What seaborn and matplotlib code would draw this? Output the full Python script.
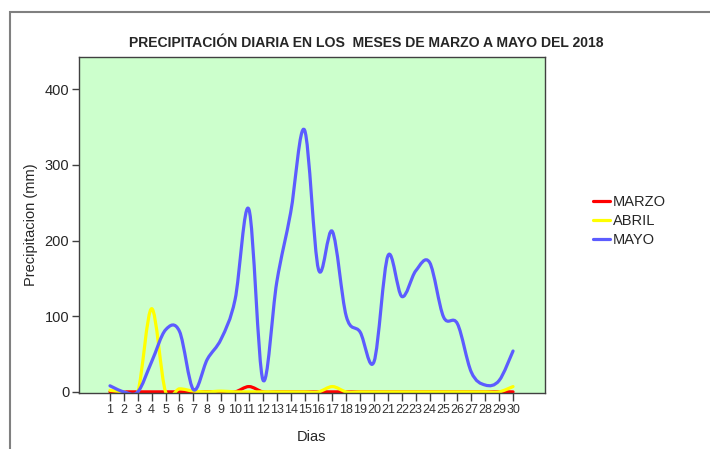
import numpy as np
import pandas as pd
import seaborn as sns
import matplotlib
matplotlib.use("Agg")
import matplotlib.pyplot as plt
from matplotlib.path import Path
from matplotlib.patches import PathPatch, Rectangle
from matplotlib.lines import Line2D

# daily precipitation (mm)
dias = list(range(1, 31))
marzo = [0, 0, 0, 0, 0, 0, 0, 0, 0, 0, 7, 0, 0, 0, 0,
         0, 0, 0, 0, 0, 0, 0, 0, 0, 0, 0, 0, 0, 0, 0]
abril = [2, 0, 0, 110, 0, 4, 1, 0, 1, 0, 0, 0, 0, 0, 0,
         0, 7, 0, 0, 0, 0, 0, 0, 0, 0, 0, 0, 0, 0, 7]
mayo = [8, 0, 0, 40, 82, 80, 3, 43, 70, 122, 241, 16, 145, 237, 346,
        162, 212, 100, 79, 40, 180, 126, 160, 171, 99, 90, 26, 9, 15, 54]
meses = ["MARZO", "ABRIL", "MAYO"]
colores = ["#FF0000", "#FFFF00", "#5C5CFF"]

df = pd.DataFrame({"Dias": dias, "MARZO": marzo, "ABRIL": abril, "MAYO": mayo})

sns.set_style("white")
plt.rcParams["font.family"] = ["Liberation Sans", "DejaVu Sans"]


def smooth_path(x, y):
    # bezier path through every data point (catmull-rom tangents)
    x = np.asarray(x, float)
    y = np.asarray(y, float)
    n = len(x)
    verts = [(x[0], y[0])]
    codes = [Path.MOVETO]
    for i in range(n - 1):
        p0 = max(i - 1, 0)
        p3 = min(i + 2, n - 1)
        c1 = (x[i] + (x[i + 1] - x[p0]) / 6, y[i] + (y[i + 1] - y[p0]) / 6)
        c2 = (x[i + 1] - (x[p3] - x[i]) / 6, y[i + 1] - (y[p3] - y[i]) / 6)
        verts += [c1, c2, (x[i + 1], y[i + 1])]
        codes += [Path.CURVE4] * 3
    return Path(verts, codes)


fig = plt.figure(figsize=(7.1, 4.49), dpi=100)
fig.patches.append(Rectangle((10 / 710, -0.1), 1.2, 1.1 - 12 / 449,
                             transform=fig.transFigure, fill=False,
                             edgecolor="#808080", linewidth=1.5))
ax = fig.add_axes([79 / 710, 1 - 393 / 449, 466 / 710, 336.3 / 449])
ax.set_facecolor("#CCFFCC")

for mes, col in zip(meses, colores):
    ax.add_patch(PathPatch(smooth_path(df["Dias"], df[mes]), fill=False,
                           edgecolor=col, linewidth=2.3, capstyle="round",
                           joinstyle="round"))

ax.set_xlim(-1.23, 32.3)
ax.set_ylim(-1.5, 443)
ax.set_xticks(dias)
ax.set_xticklabels([str(d) for d in dias], fontsize=9, color="#333333")
ax.set_yticks([0, 100, 200, 300, 400])
ax.tick_params(axis="y", labelsize=10.5, length=5, width=1, color="#404040",
               direction="out", left=True, pad=2)
ax.tick_params(axis="x", length=6, width=1, color="#404040", direction="out",
               bottom=True, pad=2)
for s in ax.spines.values():
    s.set_color("#404040")
    s.set_linewidth(1)

ax.set_xlabel("Dias", fontsize=10.5, labelpad=10)
ax.set_ylabel("Precipitacion (mm)", fontsize=10.5, labelpad=5)
fig.text(0.516, 0.904, "PRECIPITACIÓN DIARIA EN LOS  MESES DE MARZO A MAYO DEL 2018",
         ha="center", va="center", fontsize=10.1, fontweight="bold",
         family=["Liberation Sans Narrow", "Liberation Sans", "DejaVu Sans"])

handles = [Line2D([], [], color=c, linewidth=2.3) for c in colores]
fig.legend(handles, meses, loc="center left", bbox_to_anchor=(587 / 710, 1 - 221 / 449),
           frameon=False, fontsize=10.5, handlelength=1.2, handletextpad=0.2,
           labelspacing=0.35, borderaxespad=0)

fig.savefig("out.png", dpi=100)
